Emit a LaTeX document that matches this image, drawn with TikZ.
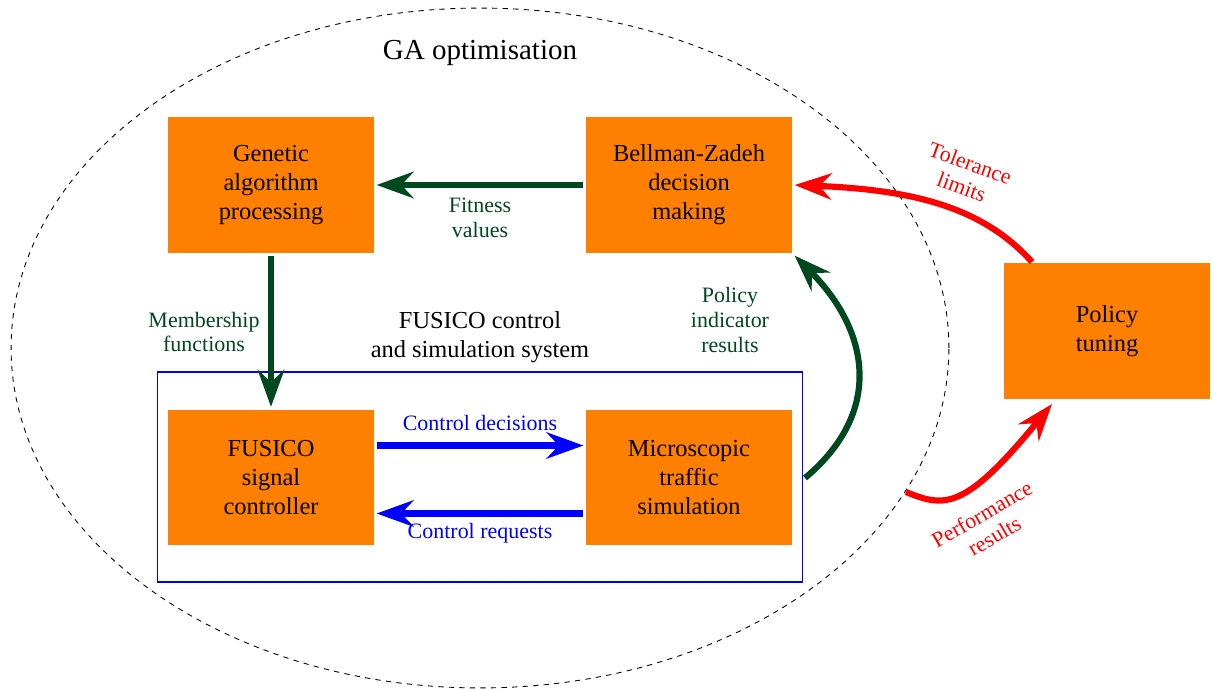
\documentclass[tikz,border=0pt]{standalone}
\usepackage{fontspec}
\setmainfont{Liberation Serif}
\usetikzlibrary{arrows.meta,calc,shapes.geometric}
\definecolor{boxorange}{RGB}{255,127,0}
\definecolor{darkgr}{RGB}{0,72,30}
\begin{document}
\begin{tikzpicture}[x=0.02cm,y=0.02cm,
  box/.style={fill=boxorange,minimum width=4.12cm,minimum height=2.72cm,align=center,
    font=\fontsize{13.9}{16.5}\selectfont,outer sep=1.5pt,inner sep=0pt},
  lbl/.style={align=center,font=\fontsize{12.5}{14.2}\selectfont},
  bigarrow/.style={line width=3.5pt,-{Stealth[length=21pt,width=15pt,inset=7pt]}},
  garrow/.style={bigarrow,draw=darkgr},
  barrow/.style={bigarrow,draw=blue},
  rarrow/.style={bigarrow,draw=red}]
\useasboundingbox (0,0) rectangle (1213,690);
\node[draw,dashed,ellipse,line width=0.5pt,minimum width=18.76cm,minimum height=13.6cm,inner sep=0pt] (ga) at (480,342) {};
\node[font=\fontsize{16.5}{20}\selectfont] (gatitle) at (480,637) {GA optimisation};
\node[draw=blue,line width=0.6pt,minimum width=12.92cm,minimum height=4.2cm,inner sep=0pt] (sys) at (480,213) {};
\node[align=center,font=\fontsize{13.9}{16.5}\selectfont] (systitle) at (480,353) {FUSICO control\\and simulation system};
\node[box] (gen) at (271,505) {Genetic\\algorithm\\processing};
\node[box] (bz) at (689,505) {Bellman-Zadeh\\decision\\making};
\node[box] (fus) at (271,212.5) {FUSICO\\signal\\controller};
\node[box] (mic) at (689,212.5) {Microscopic\\traffic\\simulation};
\node[box] (pol) at (1107,359) {Policy\\tuning};
% green arrows
\draw[garrow] (bz.west) -- (gen.east);
\node[lbl,text=darkgr] (fitlbl) at (480,472) {Fitness\\values};
\draw[garrow] (gen.south) -- (fus.north);
\node[lbl,text=darkgr] (memlbl) at (204,358) {Membership\\functions};
\coordinate (pstart) at (805,212);
\draw[garrow] (pstart) to[out=40,in=-45,looseness=1.2] (bz.south east);
\node[lbl,text=darkgr] (pollbl) at (730,370) {Policy\\indicator\\results};
% blue arrows
\draw[barrow] ([yshift=0.64cm]fus.east) -- ([yshift=0.64cm]mic.west);
\node[lbl,text=blue] (cdlbl) at (480,267) {Control decisions};
\draw[barrow] ([yshift=-0.72cm]mic.west) -- ([yshift=-0.72cm]fus.east);
\node[lbl,text=blue] (crlbl) at (480,157) {Control requests};
% red arrows
\coordinate (tstart) at (1032,428);
\draw[rarrow] (tstart) .. controls (985,480) and (920,500) .. (bz.east);
\node[lbl,text=red,rotate=-20] (tollbl) at (966,515) {Tolerance\\limits};
\coordinate (pfstart) at (906,198);
\coordinate (pfend) at (1052,286);
\draw[rarrow] (pfstart) .. controls (945,182) and (965,180) .. (pfend);
\node[lbl,text=red,rotate=30] (perflbl) at (988,165) {Performance\\results};
\end{tikzpicture}
\end{document}
